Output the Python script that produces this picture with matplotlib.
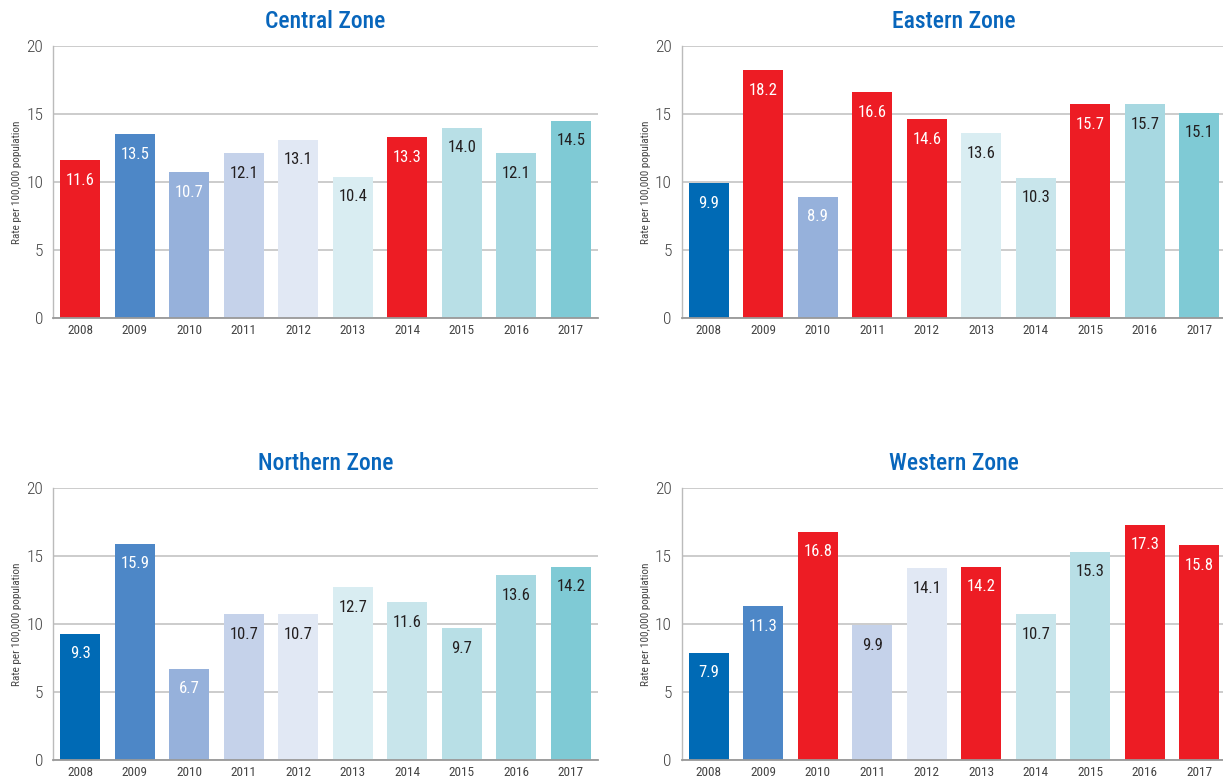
import matplotlib
matplotlib.use('Agg')
import matplotlib.pyplot as plt

plt.rcParams['font.family'] = ['Roboto Condensed', 'Roboto', 'DejaVu Sans']

years = ['2008', '2009', '2010', '2011', '2012', '2013', '2014', '2015', '2016', '2017']

central = [11.6, 13.5, 10.7, 12.1, 13.1, 10.4, 13.3, 14.0, 12.1, 14.5]
eastern = [9.9, 18.2, 8.9, 16.6, 14.6, 13.6, 10.3, 15.7, 15.7, 15.1]
northern = [9.3, 15.9, 6.7, 10.7, 10.7, 12.7, 11.6, 9.7, 13.6, 14.2]
western = [7.9, 11.3, 16.8, 9.9, 14.1, 14.2, 10.7, 15.3, 17.3, 15.8]

# highlighted (red) years per zone
central_red = ['2008', '2014']
eastern_red = ['2009', '2011', '2012', '2015']
northern_red = []
western_red = ['2010', '2013', '2016', '2017']

year_colors = ['#006AB5', '#4D87C7', '#96B1DB', '#C5D2EA', '#E1E8F4',
               '#D9EDF2', '#C8E5EB', '#B8DFE6', '#A7D8E1', '#7FCAD5']
white_text = ['2008', '2009', '2010']
red = '#ED1C24'
dark = '#231F20'

fig = plt.figure(figsize=(12.23, 7.8), dpi=100, facecolor='white')

panels = [
    ('Central Zone', central, central_red, [53/1223, 1-318/780, 545/1223, 272/780]),
    ('Eastern Zone', eastern, eastern_red, [681.5/1223, 1-318/780, 545/1223, 272/780]),
    ('Northern Zone', northern, northern_red, [53/1223, 1-760/780, 545/1223, 272/780]),
    ('Western Zone', western, western_red, [681.5/1223, 1-760/780, 545/1223, 272/780]),
]

for title, vals, reds, pos in panels:
    ax = fig.add_axes(pos)
    x = list(range(len(years)))
    cols = [red if y in reds else c for y, c in zip(years, year_colors)]
    ax.bar(x, vals, width=0.73, color=cols, zorder=2)
    for i, v in enumerate(vals):
        tc = 'white' if (years[i] in reds or years[i] in white_text) else dark
        ax.annotate('%.1f' % v, (i, v), xytext=(0, -9), textcoords='offset points',
                    ha='center', va='top', fontsize=12, color=tc)
    ax.set_xlim(-0.5, 9.5)
    ax.set_ylim(0, 20)
    ax.set_yticks([0, 5, 10, 15, 20])
    ax.set_xticks(x)
    ax.set_xticklabels(years)
    ax.tick_params(axis='y', length=0, pad=7, labelsize=12.5, labelcolor='#444444')
    ax.tick_params(axis='x', length=0, pad=4, labelsize=9.5, labelcolor='#444444')
    for lab in ax.get_yticklabels():
        lab.set_fontweight('light')
    ax.grid(axis='y', color='#C8C8C8', linewidth=1.3, zorder=0)
    ax.set_axisbelow(True)
    ax.spines['top'].set_visible(False)
    ax.spines['right'].set_visible(False)
    ax.spines['left'].set_color('#BBBBBB')
    ax.spines['left'].set_linewidth(1.0)
    ax.spines['bottom'].set_color('#999999')
    ax.spines['bottom'].set_linewidth(1.3)
    ax.set_ylabel('Rate per 100,000 population', fontsize=8, color='#444444', labelpad=3)
    ax.set_title(title, fontsize=17, color='#0866BC', fontweight='medium', pad=13)

fig.savefig('out.png', dpi=100, facecolor='white')
